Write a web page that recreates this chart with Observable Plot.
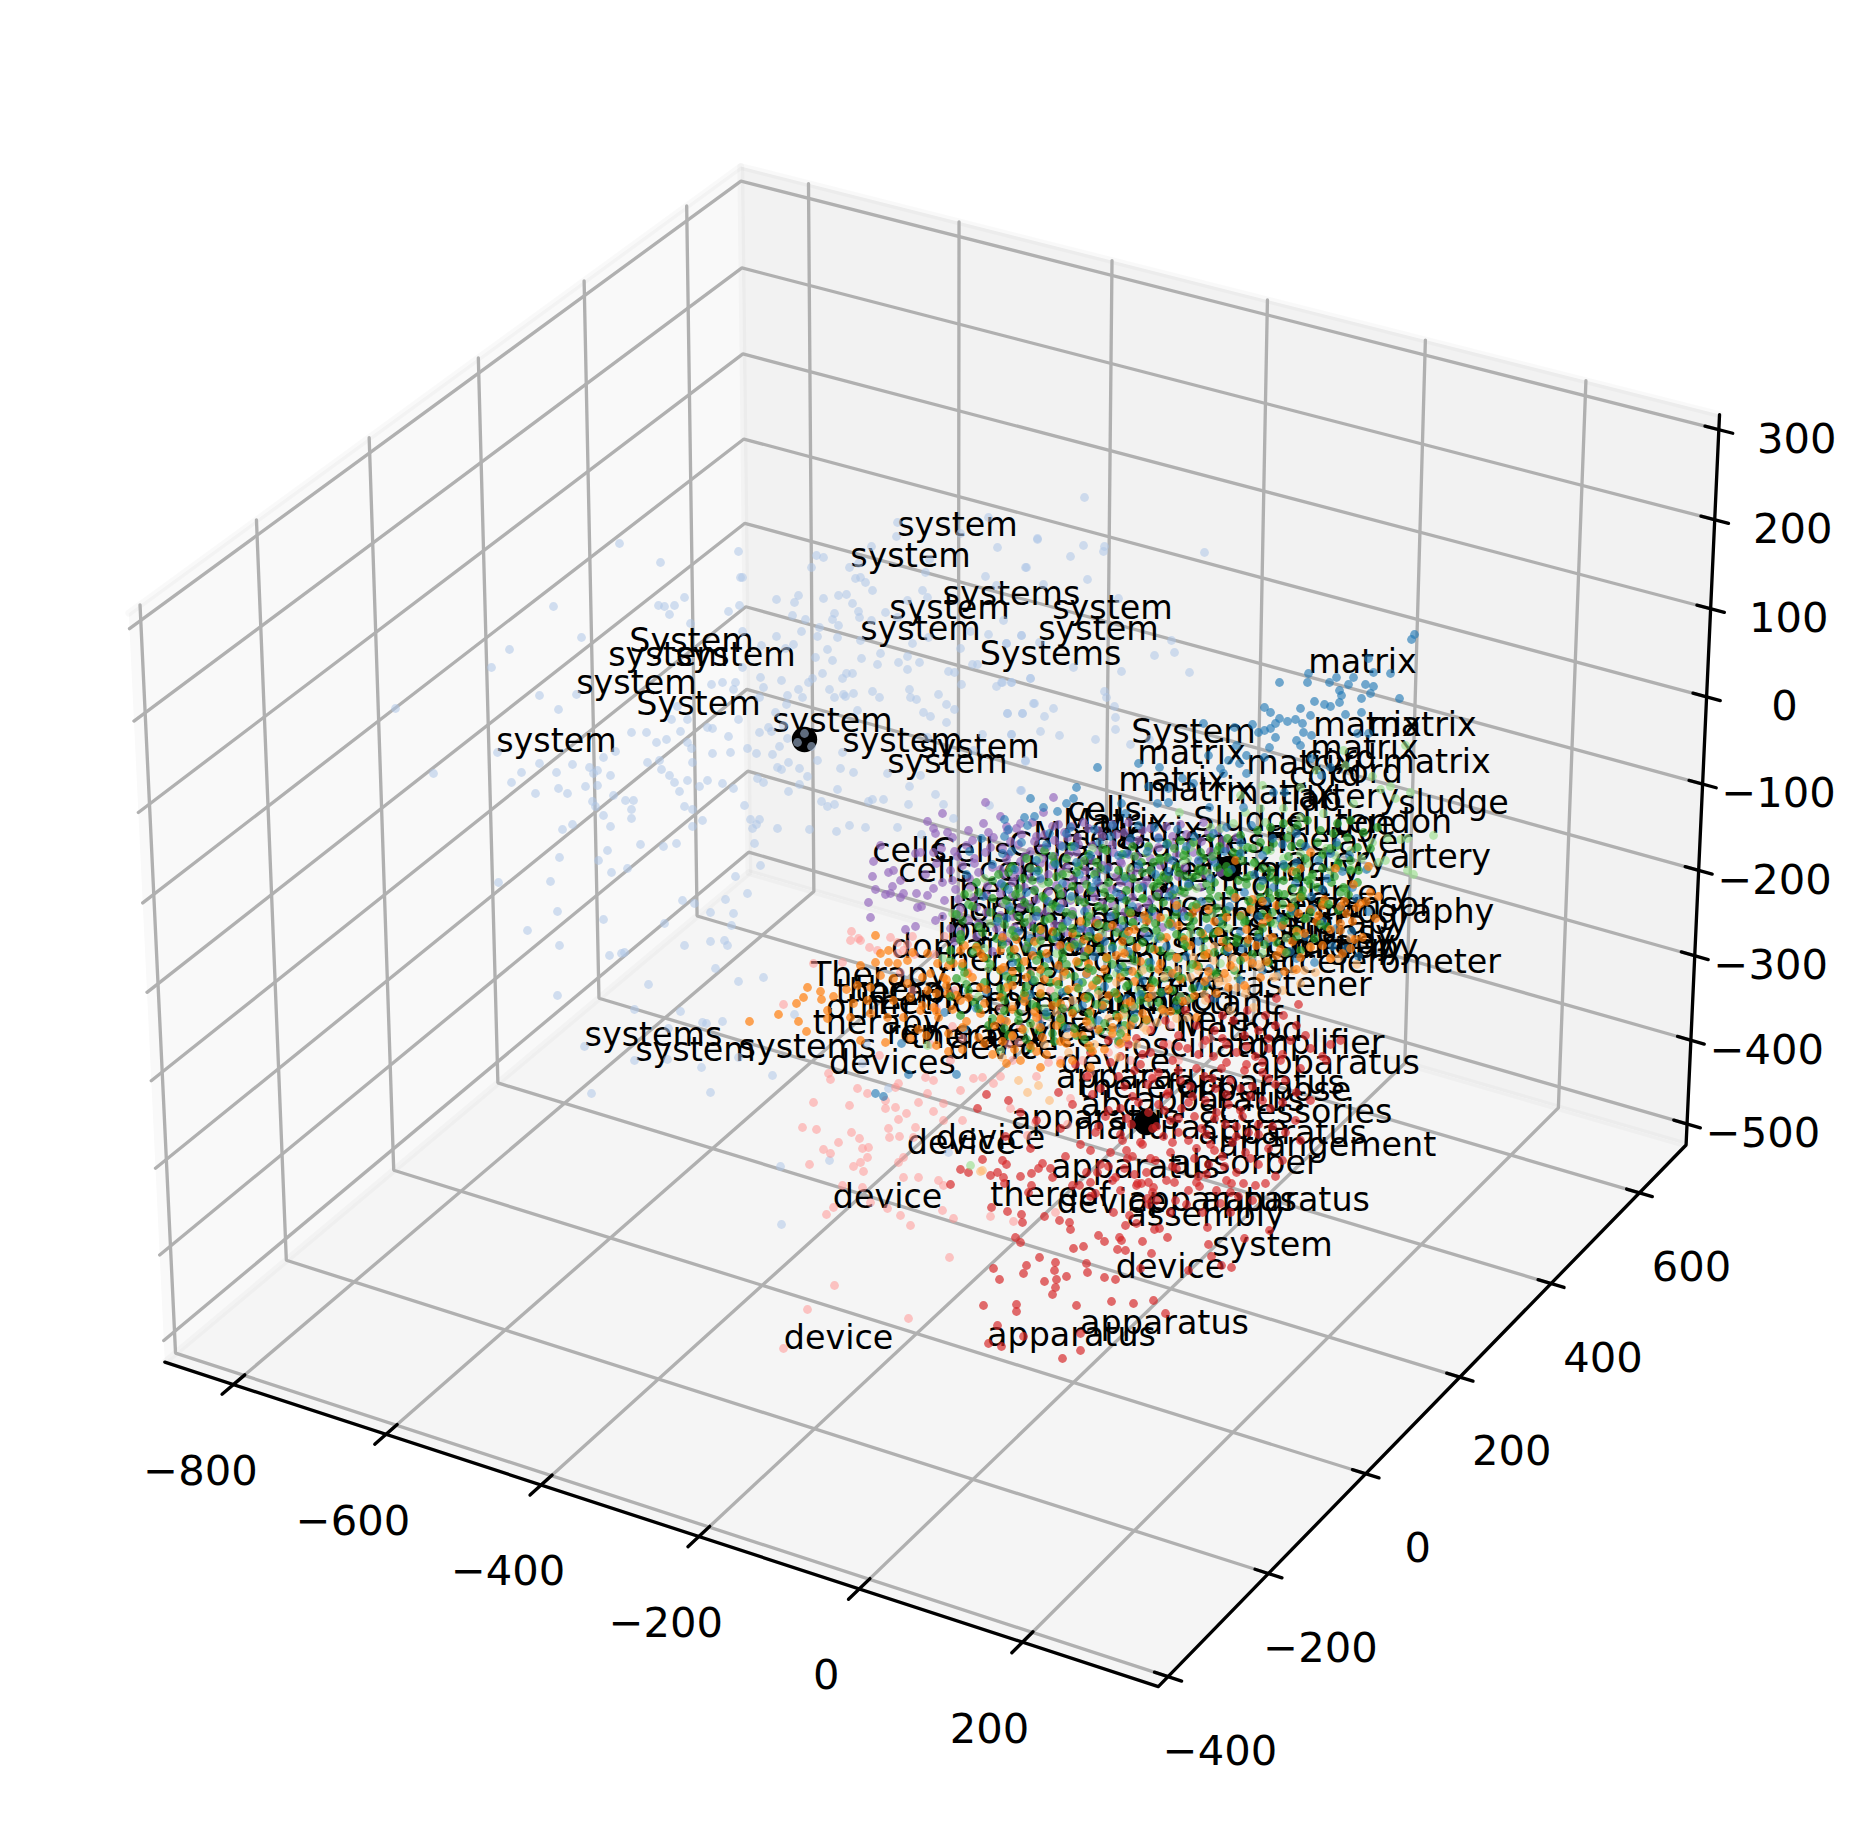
<!DOCTYPE html>
<html><head><meta charset="utf-8">
<style>html,body{margin:0;padding:0;background:#fff}svg{display:block;max-width:none!important}</style>
<script src="https://cdn.jsdelivr.net/npm/d3@7"></script>
<script src="https://cdn.jsdelivr.net/npm/@observablehq/plot@0.6"></script>
</head><body><div id="chart"></div>
<script>
const xTicks=[-800,-600,-400,-200,0,200];
const yTicks=[-400,-200,0,200,400,600];
const zTicks=[-500,-400,-300,-200,-100,0,100,200,300];
const xLim=[-891,364], yLim=[-419,708], zLim=[-525.3,316.7];

// point readings, x,y pairs on the picture
const systemPts=[619,543,660,562,553,606,509,649,491,667,581,637,395,708,433,773,539,695,558,709,576,694,658,605,664,606,674,605,684,597,669,614,690,623,738,551,740,577,728,611,739,605,742,631,722,682,735,682,733,689,711,684,677,706,671,719,687,719,738,719,712,728,631,732,646,732,680,731,707,727,728,736,656,742,666,739,687,742,691,748,712,753,730,752,647,762,659,760,661,769,669,775,674,782,687,780,707,780,692,762,699,786,722,783,733,788,679,791,633,800,625,800,592,801,597,785,585,786,558,788,567,793,535,793,511,782,521,772,556,772,572,764,589,767,597,770,593,773,610,775,539,763,603,757,615,751,497,752,613,795,684,806,692,809,595,806,631,809,631,818,603,815,610,826,572,824,562,829,702,820,692,826,
897,522,988,517,896,536,960,533,871,546,1037,539,997,547,816,555,823,557,811,567,849,567,858,563,929,559,1025,567,925,572,855,578,860,577,865,582,742,577,985,576,872,590,922,590,838,595,846,594,798,595,776,599,794,602,823,598,852,603,907,600,927,597,996,585,858,611,834,613,792,615,859,617,832,619,805,619,838,625,871,620,885,612,897,617,1003,620,819,627,801,631,776,636,817,636,837,637,970,631,988,634,1021,635,860,640,912,643,928,637,761,645,793,644,1006,643,827,649,880,653,960,648,785,648,815,657,861,658,907,656,832,660,898,662,919,662,877,664,972,664,977,664,742,667,907,669,822,673,846,673,852,673,948,671,954,672,760,677,842,678,812,678,781,680,808,682,1001,682,1030,678,996,686,961,684,1011,682,763,687,798,689,829,689,872,691,909,689,787,695,802,697,843,694,845,696,853,693,834,697,879,697,910,697,916,699,938,694,759,697,786,704,946,704,1033,703,954,709,923,712,775,712,857,710,930,716,1007,713,1022,713,946,722,768,727,759,732,771,731,804,733,797,742,811,746,783,725,747,748,779,746,756,753,772,754,787,738,817,760,788,762,842,752,777,767,781,769,799,768,840,768,853,772,887,773,1025,761,982,734,1011,734,927,737,973,750,920,775,807,776,757,778,763,782,799,784,909,786,837,789,788,791,935,794,1020,790,821,801,868,801,872,799,883,799,827,806,834,804,908,804,943,804,989,805,744,805,750,819,759,819,953,818,756,824,752,828,777,828,809,829,849,825,865,827,897,827,836,831,921,834,
1084,497,1037,538,1083,545,1104,546,1103,551,1070,556,1204,552,1026,567,1087,579,1043,584,1118,598,1021,635,1039,642,1006,643,1171,640,1154,655,1174,652,1121,671,1189,672,1073,667,1030,678,1011,682,1002,682,1104,691,1106,697,1034,703,1053,708,1114,706,1007,713,1022,713,1044,716,1115,717,1040,731,1059,735,1115,729,1011,734,1095,739,1130,744,1149,739,1025,760,1021,790,
559,857,598,860,607,850,640,844,663,846,676,843,754,843,498,882,550,881,611,872,627,868,760,865,735,876,747,893,682,900,694,903,725,899,557,911,603,919,710,912,733,913,664,923,731,925,527,930,559,945,684,945,710,941,724,940,727,945,609,955,621,953,624,952,715,968,763,977,738,981,648,984,557,995,634,1009,680,1011,702,1022,706,1023,722,1021,794,1014,668,1028,584,1046,634,1060,667,1059,738,1057,701,1067,772,1075,591,1093,710,1092,866,1043,862,1063,888,1088,829,1160,780,1166,948,1152,781,1224];

const matrixPts=[1414,634,1411,639,1368,658,1373,672,1390,673,1308,673,1307,682,1279,682,1329,682,1336,677,1353,677,1348,684,1365,684,1373,686,1339,690,1341,695,1370,693,1399,698,1361,698,1314,701,1324,704,1330,706,1339,702,1264,707,1270,712,1300,708,1310,715,1345,714,1361,712,1279,718,1275,723,1287,721,1295,719,1302,723,1203,723,1252,724,1234,727,1258,732,1264,730,1270,728,1303,732,1311,735,1275,737,1296,740,1300,745,1357,733,1368,733,1236,745,1269,747,1246,755,1264,757,1228,760,1208,755,1138,763,1159,767,1097,767,1239,763,1220,768,1223,773,1246,773,1182,778,1193,783,1148,786,1168,788,1076,787,1030,798,1073,798,1043,807,1057,811,1034,816,1024,817,1004,819,1157,803,1168,802,1209,807,1243,807,1321,775,1311,758,1330,767,1273,792,1284,792,1121,803,1125,813,1066,803,875,1093,883,1096,901,1043,908,1074,956,1074];
const matrixRows=[[825,1027,1112,1138,1251],[829,1008,1094,1177],[833,1049,1066,1213,1296],[838,981,1130,1158,1272],[842,1021,1099,1240,1336],[846,1062,1074,1186,1305],[851,969,1011,1147,1224],[855,1090,1118,1262,1349],[860,1036,1172,1198,1318],[864,992,1055,1138,1283],[869,1014,1106,1231,1366],[874,966,1079,1155,1254],[878,1040,1125,1210,1327],[883,1001,1062,1188,1295],[887,1092,1142,1273,1352],[892,1026,1116,1244],[896,983,1071,1168,1311],[901,1048,1201,1266],[906,1009,1132,1229,1340],[911,1084,1151,1292,1368],[916,1036,1110,1184,1258],[921,997,1067,1219,1322],[926,1123,1172,1281],[931,1018,1090,1240,1351],[936,1056,1148,1305],[941,1002,1104,1198,1268],[946,1076,1166,1332],[951,1032,1128,1227,1290],[956,1094,1186,1358],[962,1012,1150,1252,1314],[968,1058,1118,1209],[974,1086,1171,1278],[980,1032,1142,1240],[986,1104,1198],[992,986,1062,1162],[998,1024,1126,1214],[1005,1082,1176],[1012,944,1046,1134],[1020,1004,1098],[1028,964,1066,1118],
[827,1070,1154,1226],[836,1004,1110,1194],[844,1046,1166,1282],[853,1002,1126,1240,1330],[862,1076,1214,1296],[871,1036,1168,1342],[880,1096,1262],[889,1008,1174,1322],[898,1122,1234,1356],[908,1060,1176,1312],[918,1006,1142,1280],[928,1080,1208,1336],[938,1030,1158,1258],[948,1112,1242,1346],[958,1048,1176,1296],[970,1004,1128,1262],[982,1078,1206],[994,1030,1140],[1008,1102,976],[1024,1040,1132]];

const cellsPts=[985,802,942,813,927,821,933,828,947,832,935,833,1000,816,1020,823,1007,830,983,823,915,853,880,845,920,852,933,852,873,861,888,872,893,870,872,876,900,880,892,886,875,889,885,894,890,893,903,893,927,895,933,888,868,902,917,907,921,906,900,897,870,917,935,920,915,926,905,929,1053,797,1043,812,1067,837];
const cellsRows=[[822,1032,1083,1128,1203],[826,1006,1052,1071,1166],[830,968,1098,1142,1218],[834,1021,1044,1116,1186],[837,952,993,1077,1158,1236],[841,1010,1034,1129,1201],[845,966,1060,1092,1172],[848,941,1002,1041,1149,1225],[852,985,1076,1113,1193],[856,957,1024,1054,1137],[859,1006,1091,1168,1212],[863,936,974,1040,1121],[867,992,1066,1108,1184],[870,950,1018,1085,1150],[874,925,1003,1048,1132,1204],[878,969,1029,1073,1166],[882,942,1012,1098,1120],[885,987,1056,1143,1188],[889,955,1034,1079,1112],[893,916,1000,1062,1158],[897,973,1021,1094,1132],[900,944,1046,1070,1174],[904,1006,1028,1112,1147],[908,960,1058,1086,1196],[912,986,1038,1124],[916,942,1012,1071,1156],[920,968,1097,1134],[924,1029,1054,1172],[928,950,996,1082,1118],[932,1016,1066,1144],[936,976,1040,1100],[941,954,1006,1074],[946,1026,1058],[951,992,1084],
[824,1058,1112,1180],[828,1016,1088,1150],[832,988,1064,1124,1208],[836,1036,1102,1172],[840,972,1054,1138,1222],[844,1018,1078,1112,1190],[847,990,1046,1158],[851,954,1030,1098,1210],[854,1008,1068,1128,1176],[858,974,1042,1150],[861,1020,1082,1120,1198],[865,962,1052,1102,1160],[869,1000,1030,1138],[872,978,1060,1096,1220],[876,1014,1116,1178],[880,952,1040,1084,1146],[884,1000,1066,1128],[887,970,1024,1106,1200],[891,1048,1092,1170],[895,986,1012,1120],[899,958,1036,1080,1150],[903,1002,1062,1102],[907,976,1020,1138],[911,1046,1072,1182],[915,958,1000,1112],[919,1032,1090,1148],[923,978,1062],[927,1014,1108,1162],[931,960,1040,1088],[935,1002,1126]];

const lightGreenPts=[1179,812,1245,812,1283,808,1260,808,1300,817,1323,813,1353,803,1395,798,1380,789,1410,792,1220,828,1233,823,1265,822,1290,830,1270,850,1283,858,1295,867,1307,863,1320,858,1335,855,1350,850,1372,842,1387,838,1400,839,1407,838,1433,835,1378,862,1385,860,1407,870,1413,874,1310,877,1330,870,1350,868,1367,868,1190,847,1210,827,1183,860,1160,1008,1405,745,1343,750,1316,770,1345,765,1372,776,1390,786,1240,795,1262,785,1300,787,927,1045,1000,1050,970,1165];
const lightGreenRows=[[848,1092,1241,1326],[853,1146,1300],[858,1038,1187,1361],[863,1078,1253],[868,1010,1129,1286,1340],[873,1066,1208],[878,984,1158,1311],[883,1042,1262],[888,1103,1196,1345],[893,968,1019,1230],[898,1070,1143,1293],[903,1004,1178,1328],[908,1050,1116,1250],[913,952,1089,1212],[918,1028,1165,1306],[923,990,1133,1274],[928,1062,1228],[933,1010,1101,1190],[938,960,1154,1286],[943,1036,1080,1246],[948,984,1122,1203],[953,1056,1170,1262],[958,942,1016,1108],[963,1078,1220],[968,988,1144,1190],[973,1040,1116],[978,962,1164,1238],[984,1008,1092],[990,1058,1138],[996,978,1028,1180],[1002,1104,1148],[1008,1044,1076],[1015,1002,1124],[1022,1060,1092],[1030,1024,1110]];

const greenPts=[1307,820,1297,825,1283,823,1270,827,1257,830,1240,835,1227,838,1210,837,1193,842,1180,840,1167,843,1320,830,1333,833,1347,837,1363,832,1377,827,1350,820,1337,823,1317,842,1300,843,1287,837,1273,843,1260,842,1247,847,1233,852,1217,850,1200,852,1183,855,1167,857,1153,862,1337,845,1357,847,1370,848,1337,865,1350,870,1357,882,1343,887,1317,887,1307,880,1300,895,1283,880,1270,877,1250,875,1238,880,1227,872,1217,867,1203,870,1192,877,1178,872,1163,875,1157,883,1180,890,1210,890,1233,893,1260,897,1278,893,1222,917,1193,920,1170,920,1155,923,1245,920,1270,922,1290,913,1213,933,1182,937,1237,937];
const greenRows=[[846,1071,1132,1148,1219,1291],[850,1044,1106,1185,1266],[854,1088,1122,1238,1322],[858,1026,1066,1159,1203,1305],[862,1054,1096,1141,1254,1338],[866,1012,1078,1176,1226,1284],[870,1038,1118,1150,1270,1358],[874,998,1062,1094,1197,1312],[878,1022,1132,1168,1246,1297],[882,976,1048,1108,1214,1331],[886,1004,1072,1153,1188,1260],[890,1034,1090,1126,1229,1302],[894,964,1015,1060,1172,1284,1348],[898,992,1044,1110,1142,1209,1270],[902,1024,1084,1163,1250,1322],[906,972,1056,1098,1192,1293],[910,1010,1036,1128,1226,1338],[914,956,1072,1115,1176,1262],[918,998,1049,1148,1206,1304],[922,1024,1086,1132,1244,1282],[926,978,1062,1106,1190,1326],[930,1012,1040,1156,1218,1296],[934,960,1076,1124,1176,1258],[938,996,1052,1096,1204,1314],[942,1028,1142,1236,1276],[946,976,1068,1112,1186],[950,950,1010,1088,1160,1224,1300],[954,1040,1130,1204,1252],[958,986,1062,1106,1178],[962,1018,1078,1148,1268],[966,962,1044,1122,1198],[970,1000,1092,1168,1234],[974,1030,1066,1138,1214],[978,956,1012,1108,1182],[982,984,1050,1082,1154],[986,1026,1126,1204],[990,968,1066,1098,1172],[994,1002,1040,1142],[998,1022,1086,1118,1190],[1002,974,1056,1158],[1006,1036,1102,1134],[1010,1004,1072,1176],[1015,960,1046,1116],[1020,1018,1090,1146],[1025,988,1062,1124],[1030,1038,1100],[1035,1008,1076],[1041,1054,1118],[1048,1030,1090]];
const greenTopRows=[[848,1102,1174,1252,1330],[856,1052,1134,1212,1288],[860,1084,1160,1242,1350],[868,1030,1100,1198,1262,1322],[872,1008,1076,1142,1228,1296],[876,1056,1124,1184,1334],[880,992,1032,1160,1276],[884,1086,1206,1246,1310],[888,1018,1058,1138,1292],[892,978,1104,1184,1268,1340],[896,1042,1156,1218,1302],[900,1006,1078,1126,1248],[904,968,1052,1196,1282,1328],[908,1030,1104,1152,1216],[912,990,1066,1130,1272,1310],[916,1018,1088,1188,1240],[920,962,1044,1122,1284],[924,1004,1098,1168,1222,1320],[928,1034,1072,1144,1262],[932,982,1056,1116,1200],[936,1014,1088,1160,1296],[940,960,1040,1130,1226],[944,1002,1074,1184,1264],[948,1026,1100,1150],[952,972,1062,1214,1286],[956,1010,1084,1168],[960,950,1036,1134,1240],[964,990,1066,1112,1192],[968,1020,1088,1150],[972,964,1048,1124,1216],[976,1006,1074,1178],[980,1034,1096,1152],[984,966,1058,1128],[988,1000,1078,1192],[992,1024,1114,1160],[996,950,1054,1088],[1000,1004,1140,1176],[1004,1032,1096],[1008,978,1062,1124],[1013,1018,1088],[1018,992,1060,1134],[1023,1030,1104],[1028,1004,1074],[1033,1052,1120],[1039,1026,1084]];

const lightOrangePts=[1223,980,1233,967,1250,960,1260,967,1273,977,1300,983,1230,1010,1253,1007,1293,970,1237,987,1208,977,1190,977,1177,970,1193,957,1213,960,1217,978,1227,978,1133,1020,1123,1013,1143,1027,1157,1022,1187,1017,1027,1092,1049,1100,1038,1085,1018,1080,1002,1057,1118,1057,1068,1052,982,1170,980,1171,1205,1000,1245,993,1282,990,1315,972,1338,958];
const lightOrangeRows=[[938,1162,1268,1350],[946,1214,1310],[952,1122,1284],[958,1176,1232,1330],[964,1088,1258,1356],[970,1142,1198,1304],[976,1062,1164,1276],[982,1116,1218],[988,1040,1246],[994,1098,1152,1204],[1000,1072,1186],[1006,1012,1132],[1012,1056,1164],[1018,1000,1108,1176],[1024,1034,1088],[1030,1122,1146],[1036,1012,1066],[1044,1044,1094,1136]];

const orangePts=[749,1021,778,1014,798,1021,796,1003,803,997,807,987,820,991,833,996,821,999,806,1031,846,989,827,1010,880,953,888,950,875,962,888,962,860,965,875,935,897,963,912,952,907,960,857,985,870,987,853,1003,867,1000,850,1017,870,1013,827,1018,860,1040,885,1042,910,1038,880,975,893,978,907,983,922,977,927,990,893,1000,910,997,887,1017,903,1017,920,1010,933,1007,947,993,960,1000,980,987,943,977,967,973,953,963,937,963,927,953,960,950,983,957,1003,967,1000,950,1292,871,1300,868,1335,868,1368,866,1353,884,1370,892,1378,896,1360,903,1340,906,1375,918,1340,930,1350,948,1330,958,1235,860,1310,852];
const orangeRows=[[897,1235,1300],[901,1262,1344,1366],[905,1176,1276,1322],[909,1208,1250,1310],[913,1130,1192,1298,1346],[917,1160,1226,1268],[921,1080,1146,1214,1316,1352],[925,1112,1178,1282],[929,1040,1134,1246,1330],[933,1072,1202,1304],[937,1002,1098,1166,1272,1362],[941,1034,1122,1222,1292],[945,964,1060,1190,1256,1322],[949,1014,1088,1154,1280],[953,980,1046,1124,1208,1342],[957,1106,1176,1244,1300],[961,1024,1076,1140,1266],[965,948,1058,1196,1230],[969,1000,1040,1104,1158,1296],[973,930,1086,1172,1224],[977,972,1026,1120,1260],[981,1056,1134,1204],[985,946,1012,1092,1244],[989,986,1068,1168],[993,936,1040,1116,1216],[997,968,1000,1084,1148],[1001,1024,1130,1182],[1005,922,1052,1102],[1009,952,1012,1162],[1013,980,1072,1142],[1017,938,1036,1118,1196],[1021,966,1006,1086],[1025,994,1056,1130],[1029,918,1022,1098],[1033,948,1074,1112],[1037,978,1042,1126],[1041,1002,1060],[1045,936,1030,1088],[1049,962,1014,1104],[1054,992,1046],[1060,1020,1072],[1067,1040,1090],
[899,1252,1324],[907,1196,1290,1356],[915,1144,1240,1318],[923,1096,1170,1262,1340],[931,1052,1128,1218,1296],[939,1016,1084,1184,1248,1354],[947,976,1070,1136,1228,1310],[955,1032,1116,1204,1276],[963,962,1088,1160,1252],[971,1012,1064,1132,1208,1284],[979,946,1044,1098,1180],[987,1006,1076,1150,1228],[995,956,1024,1108,1194],[1003,984,1060,1126],[1011,936,1034,1090,1170],[1019,1000,1060,1146],[1027,962,1040,1112],[1035,926,1012,1082],[1043,984,1066,1120],[1051,948,1036,1092],[1063,1006,1060]];

const devicePts=[851,931,850,940,858,938,860,940,869,947,890,937,897,942,907,944,877,950,897,953,903,950,842,962,813,963,783,1004,828,1073,830,1079,857,1088,867,1093,879,1055,898,1083,895,1087,927,1093,813,1102,849,1105,885,1100,885,1108,895,1107,918,1102,906,1113,943,1103,898,1119,933,1111,943,1120,802,1127,816,1129,888,1128,915,1127,962,1120,851,1132,889,1137,899,1136,859,1138,913,1137,838,1142,862,1148,868,1147,823,1149,830,1153,867,1157,860,1162,903,1157,898,1162,809,1164,853,1166,863,1171,903,1177,918,1177,938,1180,842,1185,862,1187,833,1207,826,1214,870,1202,900,1215,942,1210,953,1218,973,1078,982,1077,993,1083,960,1090,925,1077,933,1080,943,1185,887,1208,910,1225,949,1257,834,1285,807,1309,908,1318,783,1348,990,1216,1013,1221,1055,1212,1027,1135,1018,1042,1048,1062,1082,1060,1108,1052,1070,1098,1090,1072,1010,1108,1035,1122,1067,1124,962,1038,1002,1020,1040,1018,1070,1028,1170,1025,1210,1038];
const deviceRows=[[936,912,944,1008],[954,914,934],[972,900,968,1030],[990,912,954,1050],[1008,936,1000,1064],[1026,952,1020,1090,1150],[1044,930,1008,1118,1168,1202],[1060,950,1012,1060,1130,1178],[1076,1000,1036,1086,1152]];

const apparatusPts=[1062,1358,1080,1350,1001,1346,988,1343,1023,1336,997,1325,1080,1333,1165,1313,1153,1300,1133,1303,1111,1301,1076,1305,1016,1311,1016,1304,983,1305,1052,1294,1055,1287,1044,1281,1056,1279,1066,1276,1054,1270,1055,1262,1023,1273,1026,1265,999,1279,993,1268,1039,1257,1087,1272,1086,1263,1104,1277,1115,1279,1140,1268,1188,1270,1221,1265,1231,1267,1211,1256,1151,1253,1073,1248,1083,1246,1125,1250,1117,1249,1208,1244,1142,1241,1104,1241,1098,1235,1119,1237,1121,1240,1167,1237,1244,1238,1015,1237,1020,1242,1070,1229,1069,1222,1022,1222,1021,1214,1044,1216,1059,1220,1007,1211,991,1207,1125,1225,1136,1223,1154,1229,1159,1228,1207,1227,1269,1230,950,1184,968,1172,960,1169,982,1159,1006,1164,990,1175,997,1172,1003,1177,1004,1183,1038,1168,1042,1163,1031,1173,1052,1177,1031,1185,1028,1192,1079,1185,1097,1172,1127,1158,1115,1177,1137,1183,1141,1183,1153,1187,1174,1182,1199,1186,1231,1183,1243,1183,1265,1183,1095,1193,1113,1212,1129,1215,1156,1200,1175,1200,1147,1198,1202,1212,1220,1203,1252,1200,977,1108,986,1094,1340,1040,1326,1060];
const apparatusRows=[[998,1208,1276],[1004,1298],[1010,1185,1247],[1015,1222,1265,1283],[1020,1165,1233],[1025,1196,1275,1296],[1030,1150,1214,1258],[1035,1178,1244,1305],[1040,1108,1205,1290],[1044,1128,1163,1226,1330],[1048,1187,1268,1310],[1052,1090,1150,1236],[1056,1120,1213,1255,1322],[1060,1172,1280],[1064,1075,1140,1246],[1068,1196,1221,1300],[1072,1158,1262],[1076,1087,1118,1204],[1080,1180,1230,1285],[1084,1147,1275],[1088,1100,1215,1240],[1092,1058,1168,1296],[1096,1132,1192,1250],[1100,1008,1205,1262,1310],[1104,1072,1158,1228],[1108,1120,1181,1270],[1112,1020,1148,1216],[1116,1105,1194,1242],[1120,1036,1170,1295],[1124,1131,1225,1258],[1128,1060,1152,1201],[1132,1095,1178,1248,1285],[1136,1005,1163,1236],[1140,1122,1188,1300],[1144,1080,1142,1210],[1148,1030,1196,1268],[1152,1110,1170,1245],[1156,1065,1132,1222],[1160,1002,1155,1282],[1164,1100,1208,1258],[1168,1050,1124,1176],[1172,1086,1146,1236],[1176,1020,1198,1275],[1180,1112,1166,1226],[1185,1072,1136,1255],[1190,1120,1188,1216],[1196,1090,1238],[1204,1148,1186],[1212,1170,1230],
[1038,1136,1222,1268],[1046,1178,1246],[1054,1142,1198,1282],[1062,1110,1226,1262],[1070,1134,1178,1244],[1078,1152,1212,1268],[1086,1124,1190,1252],[1094,1092,1166,1226],[1102,1138,1188,1282],[1110,1108,1164,1240],[1118,1126,1178,1214],[1126,1098,1156,1236,1272],[1134,1120,1206,1258],[1142,1140,1172,1232],[1150,1090,1126,1214],[1158,1150,1194,1250],[1166,1108,1172,1224],[1174,1134,1206],[1182,1090,1148,1196],[1192,1152,1230]];

const centroidPts=[804,739,1146,1122,1228,868];

const labelRows=[
["system",957,525],["system",910,556],["systems",1011,594],["system",949,608],["system",1112,608],["system",920,629],["system",1098,629],["Systems",1050,654],
["System",691,641],["system",668,655],["system",735,655],["system",636,683],["System",698,704],["system",556,741],["system",832,721],["system",902,741],["system",979,747],["system",947,762],
["matrix",1362,662],["System",1193,732],["matrix",1367,725],["matrix",1422,725],["matrix",1364,748],["matrix",1191,753],["matrix",1300,763],["cord",1340,758],["matrix",1436,762],["matrix",1172,780],["cord",1325,775],["cord",1366,772],["matrix",1200,790],["matrix",1280,793],["artery",1348,797],["flap",1310,800],["sludge",1453,803],["tendon",1393,822],["Sludge",1250,820],["sludge",1340,824],["cells",1104,810],["Matrix",1115,822],["artery",1440,857],["artery",1337,860],["fiber",1305,840],["layer",1370,842],["mesh",1240,842],
["cells",909,851],["Cells",971,851],["cells",935,871],["cell",1007,870],["Cells",1048,845],["Matrix",1085,835],["cells",1108,838],["scaffold",1180,846],["bed",990,890],["bone",989,911],["be",970,930],["tissue",1120,890],["stent",1200,880],["graft",1290,885],["implant",1080,920],["membrane",1180,915],["catheter",1250,905],["valve",1060,945],["composition",1160,945],["domain",953,947],["patch",1030,975],["member",1230,960],
["cells",1040,870],["cell",1085,860],["Matrix",1150,830],["matrix",1215,865],["cord",1270,870],["artery",1310,870],["tissue",1020,905],["bone",1060,895],["graft",1140,905],["mesh",1220,935],["stent",1290,925],["sensor",1310,905],["implant",1000,930],["device",1100,935],["valve",1180,980],["agent",1120,960],["composition",1085,1000],["therapy",1000,960],["therapy",1100,1018],["device",1040,1030],["method",1170,1000],["lens",1255,945],["fiber",1120,870],["layer",1170,870],
["artery",1360,893],["sensor",1377,905],["tomography",1392,912],["therapy",1343,923],["biopsy",1340,933],["therapy",1353,947],["therapy",1330,943],["surgery",1340,947],["accelerometer",1380,962],["fastener",1302,985],["thereof",1222,1020],["thereof",1160,985],["humectant",1185,1003],["amplifier",1310,1043],["apparatus",1335,1063],["oscillator",1207,1046],["Method",1240,1030],
["Therapy",879,975],["therapy",900,992],["therapeutic",950,990],["method",930,1003],["other",870,1007],["therapy",877,1023],["remedy",950,1033],["therapy",975,1037],["agent",1040,1005],["devices",892,1063],["systems",653,1035],["system",695,1050],["systems",807,1047],["device",1003,1048],["devices",1050,1036],
["device",1115,1062],["apparatus",1140,1077],["therefor",1145,1087],["apparatus",1260,1083],["purpose",1283,1090],["apparatus",1220,1100],["accessories",1295,1112],["apparatus",1095,1118],["apparatus",1282,1133],["manufacture",1180,1128],["abc",1110,1105],["arrangement",1327,1145],["device",990,1138],["device",961,1143],["apparatus",1135,1167],["absorber",1245,1163],["thereof",1050,1195],["device",1111,1202],["apparatus",1212,1200],["apparatus",1285,1200],["assembly",1205,1215],["device",887,1197],["system",1272,1245],["device",1170,1267],["apparatus",1164,1323],["apparatus",1071,1335],["device",838,1338]];

const T=Math.PI/180, el=30*T, az=-60*T;
const unit=1.9057/Math.hypot(4,4,3), box=[4*unit,4*unit,3*unit];
const W=[Math.cos(el)*Math.cos(az),Math.cos(el)*Math.sin(az),Math.sin(el)];
const U=[-Math.sin(az),Math.cos(az),0];
const V=[W[1]*U[2]-W[2]*U[1],W[2]*U[0]-W[0]*U[2],W[0]*U[1]-W[1]*U[0]];
const dot3=(a,b)=>a[0]*b[0]+a[1]*b[1]+a[2]*b[2];
function project(x,y,z){
  const p=[(x-xLim[0])/(xLim[1]-xLim[0])-.5,(y-yLim[0])/(yLim[1]-yLim[0])-.5,(z-zLim[0])/(zLim[1]-zLim[0])-.5].map((v,i)=>v*box[i]);
  const d=10-dot3(p,W);
  return [939+9560*dot3(p,U)/d,889.5-9560*dot3(p,V)/d];
}
const [xa,xb]=xLim,[ya,yb]=yLim,[za,zb]=zLim;
const poly=(id,pts)=>pts.map(p=>{const q=project(...p);return {id,x:q[0],y:q[1]};});
const paneLeft=poly("l",[[xa,ya,za],[xa,yb,za],[xa,yb,zb],[xa,ya,zb]]);
const paneBack=poly("b",[[xa,yb,za],[xb,yb,za],[xb,yb,zb],[xa,yb,zb]]);
const paneFloor=poly("f",[[xa,ya,za],[xb,ya,za],[xb,yb,za],[xa,yb,za]]);
const edges=[
 ...poly("e1",[[xa,ya,za],[xa,yb,za],[xb,yb,za]]),
 ...poly("e2",[[xa,yb,za],[xa,yb,zb]]),
 ...poly("e3",[[xa,ya,zb],[xa,yb,zb],[xb,yb,zb]])];
const grid=[
 ...xTicks.flatMap(t=>poly("x"+t,[[t,ya,za],[t,yb,za],[t,yb,zb]])),
 ...yTicks.flatMap(t=>poly("y"+t,[[xb,t,za],[xa,t,za],[xa,t,zb]])),
 ...zTicks.flatMap(t=>poly("z"+t,[[xa,ya,t],[xa,yb,t],[xb,yb,t]]))];
const axisLine=poly("a",[[xa,ya,za],[xb,ya,za],[xb,yb,za],[xb,yb,zb]]);
const dy=(yb-ya),dx=(xb-xa);
const tickMarks=[
 ...xTicks.flatMap(t=>poly("x"+t,[[t,ya-.018*dy,za],[t,ya+.018*dy,za]])),
 ...yTicks.flatMap(t=>poly("y"+t,[[xb+.013*dx,t,za],[xb-.013*dx,t,za]])),
 ...zTicks.flatMap(t=>poly("z"+t,[[xb+.0135*dx,yb,t],[xb-.0135*dx,yb,t]]))];
const fmt=t=>String(t).replace("-","\u2212");
const tickLabels=[
 ...xTicks.map(t=>{const q=project(t,ya,za);return {text:fmt(t),x:q[0]-33,y:q[1]+87};}),
 ...yTicks.map(t=>{const q=project(xb,t,za);return {text:fmt(t),x:q[0]+52,y:q[1]+75};}),
 ...zTicks.map(t=>{const q=project(xb,yb,t);return {text:fmt(t),x:q[0]+(t<0?76:78),y:q[1]+10};})];

const pairs=a=>{const o=[];for(let i=0;i<a.length;i+=2)o.push({x:a[i],y:a[i+1]});return o;};
const rows=r=>r.flatMap(([y,...xs])=>xs.map(x=>({x,y})));
const labels=labelRows.map(([text,x,y])=>({text,x,y}));
const dots=(data,fill,fillOpacity)=>Plot.dot(data,{x:"x",y:"y",r:4.4,fill,fillOpacity,stroke:"none"});
const FONT="DejaVu Sans";

const chart=Plot.plot({
  width:1868,height:1830,margin:0,
  style:{background:"#ffffff"},
  x:{domain:[0,1868],range:[0,1868],axis:null},
  y:{domain:[0,1830],range:[0,1830],axis:null},
  marks:[
    Plot.line(paneLeft,{x:"x",y:"y",fill:"#f9f9f9",stroke:"none"}),
    Plot.line(paneBack,{x:"x",y:"y",fill:"#f2f2f2",stroke:"none"}),
    Plot.line(paneFloor,{x:"x",y:"y",fill:"#f5f5f5",stroke:"none"}),
    Plot.line(edges,{x:"x",y:"y",z:"id",stroke:"#000",strokeOpacity:.025,strokeWidth:7}),
    Plot.line(grid,{x:"x",y:"y",z:"id",stroke:"#b0b0b0",strokeWidth:3.33,strokeLinejoin:"miter"}),
    Plot.line(axisLine,{x:"x",y:"y",stroke:"#000",strokeWidth:3.33}),
    Plot.line(tickMarks,{x:"x",y:"y",z:"id",stroke:"#000",strokeWidth:3.33}),
    Plot.text(tickLabels,{x:"x",y:"y",text:"text",fontSize:41.67,fontFamily:FONT,fill:"#000"}),
    Plot.text(labels,{x:"x",y:"y",text:"text",fontSize:33.33,fontFamily:FONT,fill:"#000"}),
    Plot.dot(pairs(centroidPts),{x:"x",y:"y",r:12.7,fill:"#000",stroke:"none"}),
    dots(pairs(systemPts),"#aec7e8",.55),
    dots([...pairs(devicePts),...rows(deviceRows)],"#ff9896",.55),
    dots([...pairs(apparatusPts),...rows(apparatusRows)],"#d62728",.68),
    dots([...pairs(cellsPts),...rows(cellsRows)],"#9467bd",.68),
    dots([...pairs(lightGreenPts),...rows(lightGreenRows)],"#98df8a",.62),
    dots([...pairs(greenPts),...rows(greenRows)],"#2ca02c",.7),
    dots([...pairs(matrixPts),...rows(matrixRows)],"#1f77b4",.62),
    dots([...pairs(lightOrangePts),...rows(lightOrangeRows)],"#ffbb78",.62),
    dots([...pairs(orangePts),...rows(orangeRows)],"#ff7f0e",.7),
    dots(rows(greenTopRows),"#2ca02c",.62)
  ]
});
document.getElementById("chart").appendChild(chart);
</script></body></html>
